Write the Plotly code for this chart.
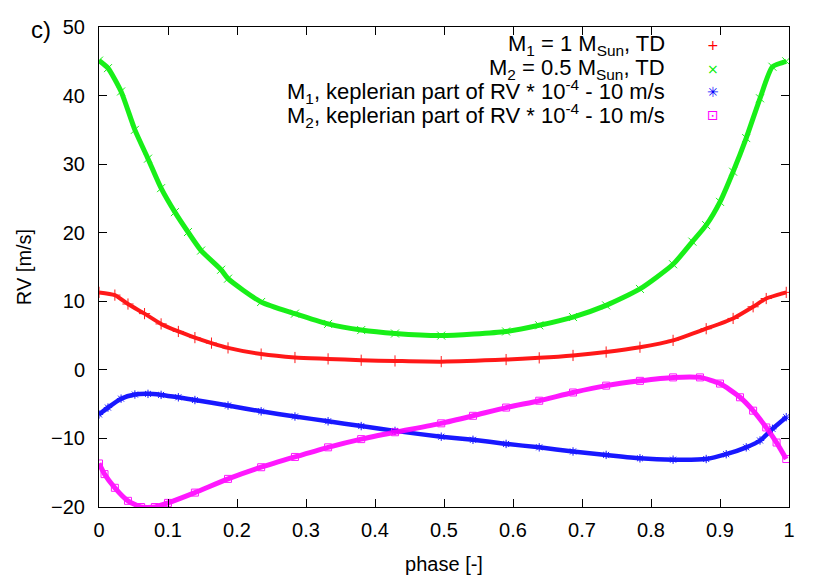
import plotly.graph_objects as go

# values
phase_m1_td = [0.0, 0.023, 0.042, 0.066, 0.09, 0.115, 0.139, 0.163, 0.187, 0.235, 0.284, 0.332, 0.38, 0.429, 0.496,
               0.59, 0.638, 0.687, 0.735, 0.784, 0.832, 0.88, 0.919, 0.948, 0.967, 0.996]
rv_m1_td = [11.3, 10.9, 9.6, 8.2, 6.7, 5.6, 4.7, 3.9, 3.2, 2.3, 1.8, 1.6, 1.4, 1.3, 1.2,
            1.5, 1.75, 2.1, 2.6, 3.3, 4.3, 6.0, 7.5, 9.2, 10.4, 11.3]

phase_m2_td = [0.0, 0.013, 0.032, 0.052, 0.071, 0.09, 0.11, 0.129, 0.148, 0.177, 0.187, 0.235, 0.284, 0.332, 0.38,
               0.429, 0.496, 0.59, 0.638, 0.687, 0.735, 0.784, 0.832, 0.86, 0.88, 0.9, 0.919, 0.938, 0.958, 0.976, 0.996]
rv_m2_td = [45.1, 44.0, 40.6, 35.0, 30.8, 26.5, 23.0, 20.1, 17.4, 14.6, 13.3, 9.9, 8.2, 6.7, 5.8,
            5.3, 5.0, 5.6, 6.5, 7.7, 9.4, 11.8, 15.4, 18.7, 21.1, 24.5, 28.9, 33.8, 39.6, 44.2, 45.0]

phase_m1_kep = [0.0, 0.013, 0.032, 0.052, 0.071, 0.09, 0.115, 0.139, 0.187, 0.235, 0.284, 0.332, 0.38, 0.429, 0.496,
                0.542, 0.59, 0.638, 0.687, 0.735, 0.784, 0.832, 0.88, 0.909, 0.938, 0.958, 0.976, 0.996]
rv_m1_kep = [-6.5, -5.5, -4.2, -3.6, -3.5, -3.65, -4.0, -4.4, -5.2, -6.05, -6.8, -7.5, -8.2, -8.9, -9.75,
             -10.2, -10.8, -11.3, -11.9, -12.4, -12.9, -13.1, -13.0, -12.3, -11.3, -10.3, -8.6, -6.9]

phase_m2_kep = [0.0, 0.008, 0.023, 0.042, 0.061, 0.081, 0.1, 0.139, 0.187, 0.235, 0.284, 0.332, 0.38, 0.429, 0.496,
                0.542, 0.59, 0.638, 0.687, 0.735, 0.784, 0.832, 0.871, 0.9, 0.929, 0.948, 0.967, 0.982, 0.996]
rv_m2_kep = [-13.65, -15.2, -17.2, -19.1, -20.0, -20.0, -19.4, -17.9, -15.9, -14.2, -12.7, -11.3, -10.1, -9.1, -7.8,
             -6.7, -5.5, -4.5, -3.3, -2.3, -1.6, -1.1, -1.1, -2.0, -4.0, -5.95, -8.4, -10.6, -13.0]

xticks = [0, 0.1, 0.2, 0.3, 0.4, 0.5, 0.6, 0.7, 0.8, 0.9, 1]
xticklabels = ['0', '0.1', '0.2', '0.3', '0.4', '0.5', '0.6', '0.7', '0.8', '0.9', '1']
yticks = [-20, -10, 0, 10, 20, 30, 40, 50]

legend_texts = ['M<sub>1</sub> = 1 M<sub>Sun</sub>, TD',
                'M<sub>2</sub> = 0.5 M<sub>Sun</sub>, TD',
                'M<sub>1</sub>, keplerian part of RV * 10<sup>-4</sup> - 10 m/s',
                'M<sub>2</sub>, keplerian part of RV * 10<sup>-4</sup> - 10 m/s']
legend_syms = ['+', '×', '✳', '⊡']
colors = ['#ff0000', '#00ee00', '#0000ff', '#ff00ff']

FONT = 'Liberation Sans, Arial, sans-serif'

fig = go.Figure()

series = [(phase_m1_td, rv_m1_td, 'cross-thin', 8, 4),
          (phase_m2_td, rv_m2_td, 'x-thin', 8, 5),
          (phase_m1_kep, rv_m1_kep, 'asterisk', 7, 4.5),
          (phase_m2_kep, rv_m2_kep, 'square-open', 7, 5)]

for i, (xs, ys, sym, size, lw) in enumerate(series):
    fig.add_trace(go.Scatter(x=xs, y=ys, mode='lines+markers',
                             line=dict(color=colors[i], width=lw, shape='spline', smoothing=0.6),
                             marker=dict(symbol=sym, size=size, color=colors[i],
                                         line=dict(color=colors[i], width=1)),
                             opacity=0.9, showlegend=False))

# gnuplot style key: text right-aligned, symbol to the right
for i, txt in enumerate(legend_texts):
    ypos = 0.962 - i * 0.0485
    fig.add_annotation(x=0.823, y=ypos, xref='paper', yref='paper', text=txt, showarrow=False,
                       xanchor='right', yanchor='middle', font=dict(family=FONT, size=22, color='black'))
    fig.add_annotation(x=0.89, y=ypos, xref='paper', yref='paper', text=legend_syms[i], showarrow=False,
                       xanchor='center', yanchor='middle', font=dict(family='DejaVu Sans', size=14, color=colors[i]))

fig.add_annotation(x=-0.084, y=0.995, xref='paper', yref='paper', text='c)', showarrow=False,
                   xanchor='center', yanchor='middle', font=dict(family=FONT, size=24, color='black'))

axis_common = dict(showline=True, linecolor='black', linewidth=1, mirror='ticks', ticks='inside', ticklen=8,
                   tickcolor='black', showgrid=False, zeroline=False, automargin=False,
                   tickfont=dict(family=FONT, size=20, color='black'))

fig.update_xaxes(range=[0, 1], tickvals=xticks, ticktext=xticklabels, ticklabelstandoff=5,
                 title=dict(text='phase [-]', font=dict(family=FONT, size=20, color='black'), standoff=16),
                 **axis_common)
fig.update_yaxes(range=[-20, 50], tickvals=yticks, ticklabelstandoff=9,
                 title=dict(text='RV [m/s]', font=dict(family=FONT, size=20, color='black'), standoff=14),
                 **axis_common)

# page body has an 8px margin, so the figure is drawn 8px in from the window edge
fig.update_layout(width=822, height=573, plot_bgcolor='white', paper_bgcolor='white',
                  margin=dict(l=91, r=41, t=19, b=74))

fig.write_html("out.html")
